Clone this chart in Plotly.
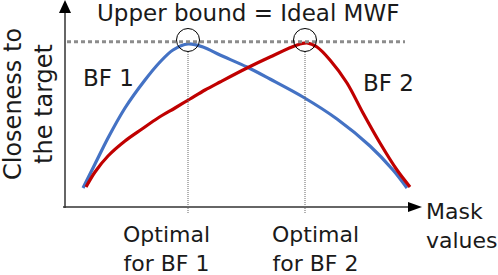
import plotly.graph_objects as go

# Conceptual curves: mask value (x) vs closeness to the target (y)
mask_bf1 = [83, 95, 108, 125, 145, 160, 173, 188, 203, 220, 247, 270, 303, 337, 370, 393, 407]
close_bf1 = [87, 111, 137, 167, 195, 213, 225, 231, 228, 220, 208, 196, 178, 156, 129, 105, 87]

mask_bf2 = [86, 95, 108, 125, 142, 158, 175, 190, 205, 220, 247, 270, 297, 307, 317, 330, 347, 363, 380, 397, 410]
close_bf2 = [88, 103, 119, 134, 146, 157, 167, 176, 185, 193, 207, 218, 230, 232, 228, 215, 192, 162, 132, 105, 88]

upper_bound = 233.3
optimal_bf1 = 188
optimal_bf2 = 305

FONT = "DejaVu Sans"
TXT = "#1a1a1a"

fig = go.Figure()
fig.add_trace(go.Scatter(x=mask_bf1, y=close_bf1, mode="lines",
                         line=dict(color="#4472C4", width=3.2, shape="spline", smoothing=0.9),
                         hoverinfo="skip"))
fig.add_trace(go.Scatter(x=mask_bf2, y=close_bf2, mode="lines",
                         line=dict(color="#C00000", width=3.2, shape="spline", smoothing=0.9),
                         hoverinfo="skip"))

shapes = []
# axes with arrows
shapes.append(dict(type="line", x0=65, x1=65, y0=67, y1=262, line=dict(color="#333", width=1.5)))
shapes.append(dict(type="path", path="M 59,262 L 71,262 L 65,275 Z", fillcolor="#000", line=dict(width=0)))
shapes.append(dict(type="line", x0=63, x1=409, y0=68, y1=68, line=dict(color="#333", width=1.5)))
shapes.append(dict(type="path", path="M 408,73 L 408,63 L 422,68 Z", fillcolor="#000", line=dict(width=0)))
# upper bound dotted line
shapes.append(dict(type="line", x0=67, x1=405, y0=upper_bound, y1=upper_bound,
                   line=dict(color="#8c8c8c", width=3, dash="4px,3px")))
# optimal markers
for xo in (optimal_bf1, optimal_bf2):
    shapes.append(dict(type="line", x0=xo, x1=xo, y0=62, y1=223,
                       line=dict(color="#666", width=1, dash="1px,1px")))
    shapes.append(dict(type="circle", x0=xo - 11.5, x1=xo + 11.5, y0=235 - 11.5, y1=235 + 11.5,
                       line=dict(color="#000", width=1)))

ann = []
def t(x, y, s, size, xanchor="center", yanchor="middle", align="center", angle=0):
    ann.append(dict(x=x, y=y, text=s, showarrow=False, xanchor=xanchor, yanchor=yanchor,
                    align=align, textangle=angle, font=dict(family=FONT, size=size, color=TXT)))

t(248, 262, "Upper bound = Ideal MWF", 23)
t(108, 197, "BF 1", 23)
t(388, 192, "BF 2", 23)
t(166, 26, "Optimal<br>for BF 1", 22)
t(315, 26, "Optimal<br>for BF 2", 22)
t(424, 49, "Mask<br>values", 22, xanchor="left", align="left")
t(28, 171, "Closeness to<br>the target", 24, angle=-90)

fig.update_layout(
    width=498, height=275, autosize=False,
    margin=dict(l=0, r=0, t=0, b=0),
    paper_bgcolor="white", plot_bgcolor="white",
    showlegend=False,
    xaxis=dict(range=[0, 498], visible=False, fixedrange=True),
    yaxis=dict(range=[0, 275], visible=False, fixedrange=True),
    shapes=shapes, annotations=ann,
)
fig.write_html("out.html", config={"displayModeBar": False},
               post_script="document.body.style.margin='0';document.body.style.overflow='hidden';")
